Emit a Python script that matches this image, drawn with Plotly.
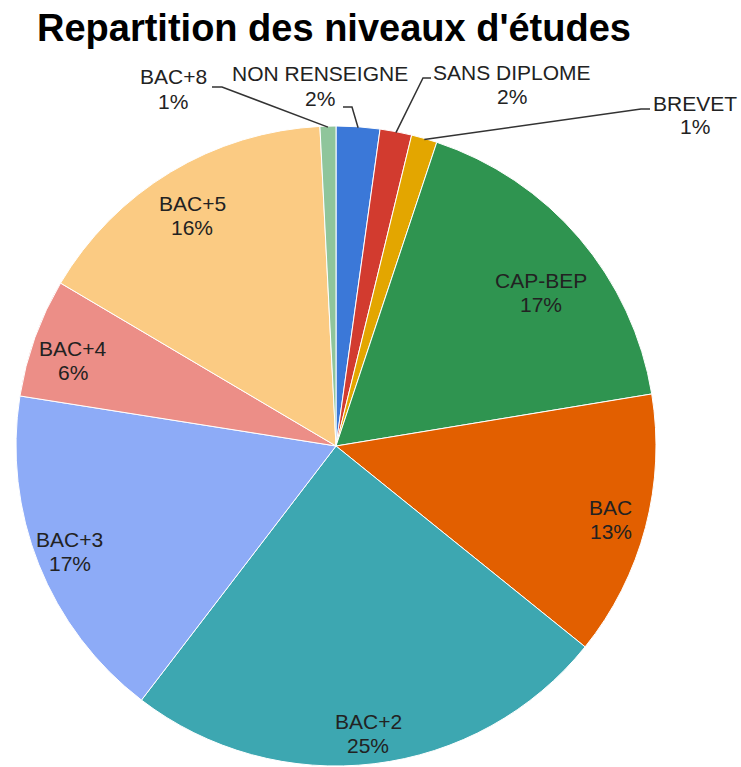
import numpy as np
import plotly.graph_objects as go

# ---- data ----
labels = ["NON RENSEIGNE", "SANS DIPLOME", "BREVET", "CAP-BEP", "BAC",
          "BAC+2", "BAC+3", "BAC+4", "BAC+5", "BAC+8"]
values = [2.2, 1.6, 1.3, 17.3, 13.4, 24.6, 17.1, 6.0, 15.7, 0.8]
colors = ["#3b78d8", "#d23b2f", "#e3a600", "#2f9450", "#e25f00",
          "#3da7b1", "#8dabf7", "#ec8e87", "#fbcb83", "#8fc59b"]

# ---- layout constants (pixels) ----
W, H = 741, 767
CX, CY, R = 336, 447, 321
FONT = "Liberation Sans, Arial, sans-serif"
TXT = "#222222"
FS = 21
GAP = 24

def px(x):
    return x / W

def py(y):
    return 1 - y / H

vals = np.array(values, dtype=float)
total = vals.sum()
cum = np.cumsum(vals) - vals / 2
mid_ang = cum / total * 2 * np.pi  # clockwise from 12 o'clock
pct = [f"{int(round(100 * v / total))}%" for v in vals]

def polar(ang, r):
    return CX + r * np.sin(ang), CY - r * np.cos(ang)

fig = go.Figure(go.Pie(
    labels=labels, values=values, sort=False, direction="clockwise",
    rotation=0, textinfo="none", hoverinfo="label+percent",
    marker=dict(colors=colors, line=dict(color="white", width=1)),
    domain=dict(x=[px(CX - R), px(CX + R)], y=[py(CY + R - 2), py(CY - R)]),
    showlegend=False,
))

annotations = []
shapes = []

def add_label(i, x, y):
    annotations.append(dict(x=px(x), y=py(y - GAP / 2), xref="paper", yref="paper",
                            text=labels[i], showarrow=False, xanchor="center",
                            yanchor="middle", font=dict(size=FS, color=TXT, family=FONT)))
    annotations.append(dict(x=px(x), y=py(y + GAP / 2), xref="paper", yref="paper",
                            text=pct[i], showarrow=False, xanchor="center",
                            yanchor="middle", font=dict(size=FS, color=TXT, family=FONT)))

# inside labels: (radius fraction, angle offset in degrees) per slice
inside_r = {3: (0.80, 3.4), 4: (0.885, 0.0), 5: (0.897, 0.4), 6: (0.89, 0.4),
            7: (0.863, -1.5), 8: (0.85, -0.7)}
for i, (rf, off) in inside_r.items():
    x, y = polar(mid_ang[i] + np.radians(off), R * rf)
    add_label(i, x, y)

# outside labels: text centre, elbow, line end
outside = {
    9: ((173, 89), (222, 87), (212, 87)),
    0: ((320, 86), (352, 107), (343, 107)),
    1: ((512, 85), (423, 78), (431, 78)),
    2: ((695, 115), (641, 109), (650, 109)),
}
for i, (tc, el, en) in outside.items():
    add_label(i, *tc)
    rx, ry = polar(mid_ang[i], R - 1)
    path = (f"M {px(rx)},{py(ry)} L {px(el[0])},{py(el[1])} "
            f"L {px(en[0])},{py(en[1])}")
    shapes.append(dict(type="path", path=path, xref="paper", yref="paper",
                       line=dict(color="#333333", width=1.5)))

fig.update_layout(
    width=W, height=H, autosize=False,
    margin=dict(l=0, r=0, t=0, b=0),
    paper_bgcolor="white", plot_bgcolor="white",
    title=dict(text="<b>Repartition des niveaux d'études</b>",
               x=37 / W, xanchor="left", xref="container",
               y=1 - 28 / H, yanchor="middle", yref="container",
               font=dict(size=38, color="#000000", family=FONT)),
    annotations=annotations, shapes=shapes,
)

fig.write_html("out.html", config={"displayModeBar": False},
               post_script="document.body.style.margin='0px';"
                           "document.body.style.overflow='hidden';")
